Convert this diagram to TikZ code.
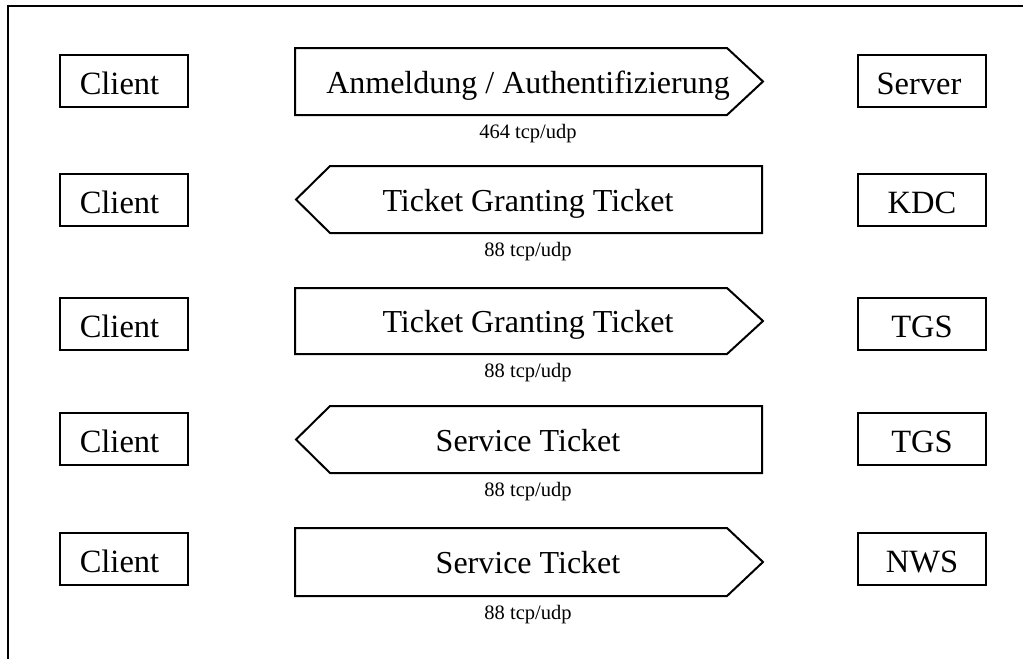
\documentclass[tikz,border=0pt]{standalone}
\usepackage{fontspec}
\setmainfont{Liberation Serif}
\tikzset{
  kasten/.style={draw,line width=2pt,minimum width=128pt,minimum height=52pt,inner sep=0pt,text height=26pt,text depth=0pt,font=\fontsize{32.5}{36}\selectfont},
  pfeil/.style={draw,line width=2pt,line join=miter},
  pfeiltext/.style={anchor=base,inner sep=0pt,font=\fontsize{32}{36}\selectfont},
  port/.style={anchor=base,inner sep=0pt,font=\fontsize{20.5}{24}\selectfont}
}
\begin{document}
\begin{tikzpicture}[x=1pt,y=-1pt]
    \useasboundingbox (0,0) rectangle (1023,659);
    \draw[line width=2pt] (1023,5.5) -- (7.5,5.5) -- (7.5,659);
    % linke Spalte
    \node[kasten] (client1) at (123.5,81) {Client\kern8pt};
    \node[kasten] (client2) at (123.5,200) {Client\kern8pt};
    \node[kasten] (client3) at (123.5,324) {Client\kern8pt};
    \node[kasten] (client4) at (123.5,439) {Client\kern8pt};
    \node[kasten] (client5) at (123.5,559) {Client\kern8pt};
    % rechte Spalte
    \node[kasten] (server) at (922,81) {Server\kern6pt};
    \node[kasten] (kdc) at (922,200) {KDC};
    \node[kasten] (tgs1) at (922,324) {TGS};
    \node[kasten] (tgs2) at (922,439) {TGS};
    \node[kasten] (nws) at (922,559) {NWS};
    % Pfeile
    \draw[pfeil] (295,48) -- (727,48) -- (763,81.5) -- (727,115) -- (295,115) -- cycle;
    \draw[pfeil] (762,166) -- (330,166) -- (296,199.5) -- (330,233) -- (762,233) -- cycle;
    \draw[pfeil] (295,288) -- (727,288) -- (763,321) -- (727,354) -- (295,354) -- cycle;
    \draw[pfeil] (762,406) -- (330,406) -- (296,439.5) -- (330,473) -- (762,473) -- cycle;
    \draw[pfeil] (295,528) -- (727,528) -- (763,562) -- (727,596) -- (295,596) -- cycle;
    \node[pfeiltext] (anmeldung) at (528,93) {Anmeldung / Authentifizierung};
    \node[pfeiltext] (tgt1) at (528,211) {Ticket Granting Ticket};
    \node[pfeiltext] (tgt2) at (528,332.5) {Ticket Granting Ticket};
    \node[pfeiltext] (st1) at (528,451) {Service Ticket};
    \node[pfeiltext] (st2) at (528,573.5) {Service Ticket};
    % Ports
    \node[port] (port1) at (528,138.5) {464 tcp/udp};
    \node[port] (port2) at (528,256.5) {88 tcp/udp};
    \node[port] (port3) at (528,377.5) {88 tcp/udp};
    \node[port] (port4) at (528,496.5) {88 tcp/udp};
    \node[port] (port5) at (528,619.5) {88 tcp/udp};
\end{tikzpicture}
\end{document}
